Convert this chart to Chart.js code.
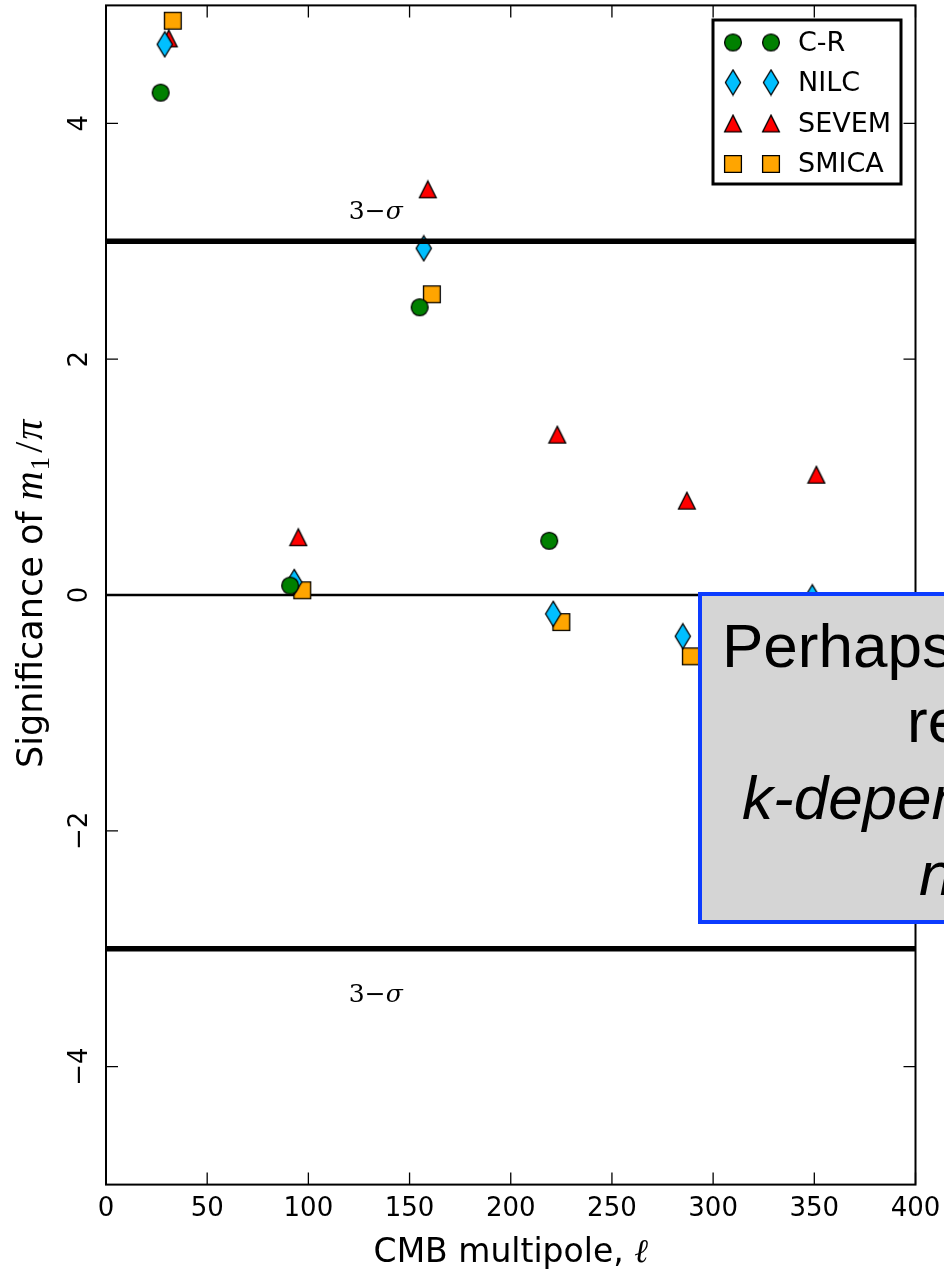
<!DOCTYPE html>
<html>
<head>
<meta charset="utf-8">
<script src="https://cdn.jsdelivr.net/npm/chart.js@4/dist/chart.umd.min.js"></script>
<style>
  html, body { margin: 0; padding: 0; background: #fff; overflow: hidden; }
  canvas { display: block; }
</style>
</head>
<body>
<canvas id="chart" width="944" height="1269"></canvas>
<script>
// Significance of the m1/pi statistic per multipole bin, for each CMB map
const crMultipoles = [27, 91, 155, 219];
const crSignificance = [4.26, 0.08, 2.44, 0.46];

const nilcMultipoles = [29, 93, 157, 221, 285, 349];
const nilcSignificance = [4.67, 0.11, 2.94, -0.16, -0.35, -0.02];

const sevemMultipoles = [31, 95, 159, 223, 287, 351];
const sevemSignificance = [4.72, 0.49, 3.44, 1.36, 0.80, 1.02];

const smicaMultipoles = [33, 97, 161, 225, 289];
const smicaSignificance = [4.87, 0.04, 2.55, -0.23, -0.52];

const seriesNames = ['C-R', 'NILC', 'SEVEM', 'SMICA'];
const xTickValues = [0, 50, 100, 150, 200, 250, 300, 350, 400];
const yTickValues = [-4, -2, 0, 2, 4];
const sigmaLevels = [3, -3];
const sigmaLabelPositions = [[120, 3.19], [120, -3.45]];
const noteLines = ['Perhaps', 're', 'k-depen', 'n'];

const sansFont = '"DejaVu Sans", sans-serif';
const serifFont = '"DejaVu Serif", serif';
const mathFont = '"Liberation Serif", "DejaVu Serif", serif';

// matplotlib-style marker glyphs, drawn once and reused as point styles
function makeMarker(kind, fill) {
  const c = document.createElement('canvas');
  const w = kind === 'diamond' ? 18 : 20;
  const h = kind === 'diamond' ? 28 : 20;
  c.width = w; c.height = h;
  const g = c.getContext('2d');
  const cx = w / 2, cy = h / 2, r = 8.4;
  g.beginPath();
  if (kind === 'circle') {
    g.arc(cx, cy, r, 0, Math.PI * 2);
  } else if (kind === 'diamond') {
    g.moveTo(cx, cy - 12.6); g.lineTo(cx + 7.6, cy);
    g.lineTo(cx, cy + 12.6); g.lineTo(cx - 7.6, cy);
    g.closePath();
  } else if (kind === 'triangle') {
    g.moveTo(cx, cy - r); g.lineTo(cx + r, cy + r); g.lineTo(cx - r, cy + r);
    g.closePath();
  } else {
    g.rect(cx - r, cy - r, 2 * r, 2 * r);
  }
  g.fillStyle = fill; g.fill();
  g.strokeStyle = '#000'; g.lineWidth = 1.3; g.lineJoin = 'miter'; g.stroke();
  return c;
}

const markers = [
  makeMarker('circle', '#008000'),
  makeMarker('diamond', '#00bfff'),
  makeMarker('triangle', '#ff0000'),
  makeMarker('square', '#ffa500')
];

function toPoints(xs, ys) { return xs.map((v, i) => ({ x: v, y: ys[i] })); }

const seriesData = [
  toPoints(crMultipoles, crSignificance),
  toPoints(nilcMultipoles, nilcSignificance),
  toPoints(sevemMultipoles, sevemSignificance),
  toPoints(smicaMultipoles, smicaSignificance)
];

const datasets = seriesNames.map((name, i) => ({
  label: name,
  data: seriesData[i],
  pointStyle: markers[i],
  pointRadius: 9,
  pointHoverRadius: 9,
  showLine: false
}));

function hline(ctx, x0, x1, y) {
  ctx.beginPath(); ctx.moveTo(x0, y); ctx.lineTo(x1, y); ctx.stroke();
}

const decorations = {
  id: 'decorations',
  beforeDatasetsDraw(chart) {
    const { ctx, chartArea: a, scales: { y } } = chart;
    ctx.save();
    ctx.strokeStyle = '#000';
    ctx.lineWidth = 2.5;
    hline(ctx, a.left, a.right, y.getPixelForValue(0));
    ctx.restore();
  },
  afterDatasetsDraw(chart) {
    const { ctx, chartArea: a, scales: { x, y } } = chart;
    ctx.save();

    // 3-sigma thresholds
    ctx.strokeStyle = '#000';
    ctx.lineWidth = 5.5;
    sigmaLevels.forEach(v => hline(ctx, a.left, a.right, y.getPixelForValue(v)));

    // 3-sigma labels
    ctx.fillStyle = '#000';
    ctx.textBaseline = 'alphabetic';
    ctx.textAlign = 'left';
    sigmaLabelPositions.forEach(([lx, ly]) => {
      let px = x.getPixelForValue(lx);
      const py = y.getPixelForValue(ly);
      ctx.font = `25px ${serifFont}`;
      ctx.fillText('3\u2212', px, py);
      px += ctx.measureText('3\u2212').width;
      ctx.font = `italic 25px ${serifFont}`;
      ctx.fillText('\u03c3', px, py);
    });

    // frame
    ctx.lineWidth = 2;
    ctx.strokeRect(a.left, a.top, a.right - a.left, a.bottom - a.top);

    // inward ticks on all four sides
    ctx.lineWidth = 1.3;
    const tl = 12;
    xTickValues.forEach(v => {
      const px = x.getPixelForValue(v);
      ctx.beginPath();
      ctx.moveTo(px, a.bottom); ctx.lineTo(px, a.bottom - tl);
      ctx.moveTo(px, a.top); ctx.lineTo(px, a.top + tl);
      ctx.stroke();
    });
    yTickValues.forEach(v => {
      const py = y.getPixelForValue(v);
      ctx.beginPath();
      ctx.moveTo(a.left, py); ctx.lineTo(a.left + tl, py);
      ctx.moveTo(a.right, py); ctx.lineTo(a.right - tl, py);
      ctx.stroke();
    });

    // tick labels
    ctx.font = `26px ${sansFont}`;
    ctx.textAlign = 'center';
    ctx.textBaseline = 'middle';
    xTickValues.forEach(v => {
      ctx.fillText(String(v), x.getPixelForValue(v), a.bottom + 25);
    });
    yTickValues.forEach(v => {
      const label = v < 0 ? '\u2212' + Math.abs(v) : String(v);
      ctx.save();
      ctx.translate(a.left - 26, y.getPixelForValue(v));
      ctx.rotate(-Math.PI / 2);
      ctx.fillText(label, 0, 0);
      ctx.restore();
    });

    // x axis title
    ctx.textAlign = 'left';
    ctx.textBaseline = 'alphabetic';
    ctx.font = `33px ${sansFont}`;
    const xt1 = 'CMB multipole, ';
    const w1 = ctx.measureText(xt1).width;
    ctx.font = `italic 33px ${serifFont}`;
    const w2 = ctx.measureText('\u2113').width;
    const xStart = (a.left + a.right) / 2 - (w1 + w2) / 2;
    ctx.font = `33px ${sansFont}`;
    ctx.fillText(xt1, xStart, 1262);
    ctx.font = `italic 33px ${serifFont}`;
    ctx.fillText('\u2113', xStart + w1, 1262);

    // y axis title, rotated
    ctx.save();
    ctx.translate(42, 768);
    ctx.rotate(-Math.PI / 2);
    let cx = 0;
    ctx.font = `35px ${sansFont}`;
    ctx.fillText('Significance of ', cx, 0);
    cx += ctx.measureText('Significance of ').width;
    ctx.font = `italic 40px ${mathFont}`;
    ctx.fillText('m', cx, 0);
    cx += ctx.measureText('m').width + 1;
    ctx.font = `27px ${mathFont}`;
    ctx.fillText('1', cx, 7);
    cx += ctx.measureText('1').width + 4;
    ctx.font = `40px ${mathFont}`;
    ctx.fillText('/', cx, 0);
    cx += ctx.measureText('/').width + 2;
    ctx.font = `italic 40px ${mathFont}`;
    ctx.fillText('\u03c0', cx, 0);
    ctx.restore();

    // legend
    const lx = 713, ly = 20, lw = 188, lh = 164;
    ctx.fillStyle = '#fff';
    ctx.fillRect(lx, ly, lw, lh);
    ctx.strokeStyle = '#000';
    ctx.lineWidth = 3;
    ctx.strokeRect(lx, ly, lw, lh);
    const rowY = [42.5, 82.5, 123.5, 164];
    ctx.fillStyle = '#000';
    ctx.font = `27px ${sansFont}`;
    ctx.textBaseline = 'middle';
    chart.data.datasets.forEach((ds, i) => {
      const m = ds.pointStyle;
      [733, 771].forEach(mx => ctx.drawImage(m, mx - m.width / 2, rowY[i] - m.height / 2));
      ctx.fillText(ds.label, 798, rowY[i] + 1);
    });

    ctx.restore();
  },
  afterDraw(chart) {
    // callout box laid over the lower right of the plot
    const { ctx } = chart;
    ctx.save();
    ctx.fillStyle = '#d5d5d5';
    ctx.fillRect(700, 594, 300, 328);
    ctx.strokeStyle = '#0c3cff';
    ctx.lineWidth = 4;
    ctx.strokeRect(700, 594, 300, 328);
    ctx.fillStyle = '#000';
    ctx.textBaseline = 'alphabetic';
    ctx.textAlign = 'left';
    ctx.font = '62px "Liberation Sans", Arial, sans-serif';
    ctx.fillText(noteLines[0], 722, 667);
    ctx.fillText(noteLines[1], 907, 742);
    ctx.font = 'italic 62px "Liberation Sans", Arial, sans-serif';
    ctx.fillText(noteLines[2], 742, 819);
    ctx.fillText(noteLines[3], 919, 895);
    ctx.restore();
  }
};

new Chart(document.getElementById('chart'), {
  type: 'scatter',
  data: { datasets },
  options: {
    responsive: false,
    animation: false,
    events: [],
    layout: { autoPadding: false, padding: { left: 106, right: 28.5, top: 5.4, bottom: 84.4 } },
    plugins: { legend: { display: false }, tooltip: { enabled: false } },
    scales: {
      x: {
        type: 'linear', min: 0, max: 400,
        afterBuildTicks: s => { s.ticks = xTickValues.map(v => ({ value: v })); },
        ticks: { display: false },
        grid: { display: false, drawTicks: false },
        border: { display: false },
        title: { display: false }
      },
      y: {
        type: 'linear', min: -5, max: 5,
        afterBuildTicks: s => { s.ticks = yTickValues.map(v => ({ value: v })); },
        ticks: { display: false },
        grid: { display: false, drawTicks: false },
        border: { display: false },
        title: { display: false }
      }
    }
  },
  plugins: [decorations]
});
</script>
</body>
</html>
